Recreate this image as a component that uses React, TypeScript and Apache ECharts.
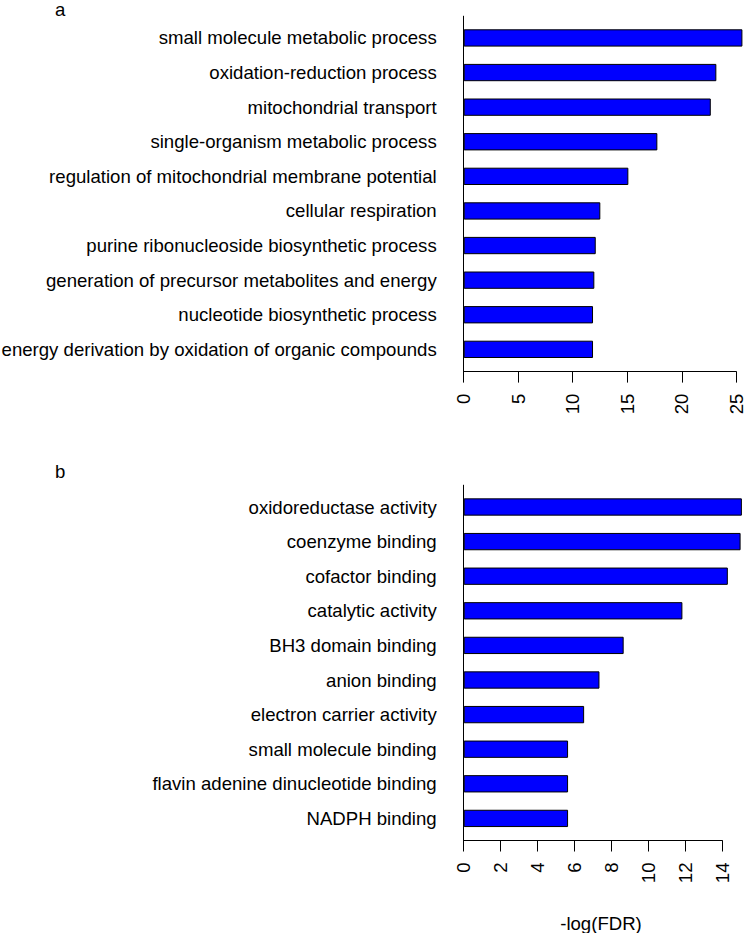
import React, { useEffect, useRef } from "react";
import * as echarts from "echarts";

const termsA = [
  "small molecule metabolic process",
  "oxidation-reduction process",
  "mitochondrial transport",
  "single-organism metabolic process",
  "regulation of mitochondrial membrane potential",
  "cellular respiration",
  "purine ribonucleoside biosynthetic process",
  "generation of precursor metabolites and energy",
  "nucleotide biosynthetic process",
  "energy derivation by oxidation of organic compounds",
];
const valuesA = [25.56, 23.17, 22.66, 17.76, 15.1, 12.53, 12.11, 11.98, 11.86, 11.86];

const termsB = [
  "oxidoreductase activity",
  "coenzyme binding",
  "cofactor binding",
  "catalytic activity",
  "BH3 domain binding",
  "anion binding",
  "electron carrier activity",
  "small molecule binding",
  "flavin adenine dinucleotide binding",
  "NADPH binding",
];
const valuesB = [15.06, 14.99, 14.3, 11.84, 8.66, 7.35, 6.52, 5.65, 5.65, 5.65];

const axisA = { max: 25, interval: 5 };
const axisB = { max: 14, interval: 2 };
const panelLabels = ["a", "b"];
const xTitle = "-log(FDR)";

const FONT = "'Liberation Sans', Arial, Helvetica, sans-serif";
const FS = 18.6;

export default function App() {
  const ref = useRef<HTMLDivElement>(null);
  useEffect(() => {
    if (!ref.current) return;
    const chart = echarts.init(ref.current, undefined, { renderer: "svg" });
    const valueAxisVisible = (gridIndex: number, max: number, interval: number) => ({
      gridIndex,
      type: "value",
      min: 0,
      max,
      interval,
      axisLine: { show: true, lineStyle: { color: "#000", width: 1 } },
      axisTick: { show: true, length: 11, lineStyle: { color: "#000", width: 1 } },
      axisLabel: { rotate: 90, margin: 22, fontSize: FS, color: "#000", fontFamily: FONT },
      splitLine: { show: false },
    });
    const hiddenX = (gridIndex: number, max: number) => ({
      gridIndex,
      type: "value",
      min: 0,
      max,
      show: false,
      splitLine: { show: false },
    });
    const catY = (gridIndex: number, data: string[]) => ({
      gridIndex,
      type: "category",
      data,
      inverse: true,
      axisLine: { show: false },
      axisTick: { show: false },
      axisLabel: { margin: 27, fontSize: FS, color: "#000", fontFamily: FONT },
    });
    const lineY = (gridIndex: number) => ({
      gridIndex,
      type: "value",
      min: 0,
      max: 1,
      axisLine: { show: true, lineStyle: { color: "#000", width: 1 } },
      axisTick: { show: false },
      axisLabel: { show: false },
      splitLine: { show: false },
    });
    const barSeries = (idx: number, data: number[]) => ({
      type: "bar",
      xAxisIndex: idx,
      yAxisIndex: idx,
      data,
      barCategoryGap: "50%",
      clip: false,
      itemStyle: { color: "#0000FF", borderColor: "#000", borderWidth: 1 },
      silent: true,
    });
    const g = (top: number, width: number, height: number) => ({
      left: 463.7,
      top,
      width,
      height,
      containLabel: false,
      outerBoundsMode: "none",
    });
    chart.setOption({
      animation: false,
      textStyle: { fontFamily: FONT },
      grid: [
        g(20.65, 272.6, 346),
        g(16.2, 272.6, 355.4),
        g(489.7, 258.6, 346),
        g(485.2, 258.6, 355.3),
      ],
      xAxis: [
        hiddenX(0, axisA.max),
        valueAxisVisible(1, axisA.max, axisA.interval),
        hiddenX(2, axisB.max),
        valueAxisVisible(3, axisB.max, axisB.interval),
      ],
      yAxis: [catY(0, termsA), lineY(1), catY(2, termsB), lineY(3)],
      series: [barSeries(0, valuesA), barSeries(2, valuesB)],
      graphic: [
        {
          type: "text",
          left: 55,
          top: 0,
          style: { text: panelLabels[0], fontSize: FS, fill: "#000", fontFamily: FONT },
        },
        {
          type: "text",
          left: 55,
          top: 462,
          style: { text: panelLabels[1], fontSize: FS, fill: "#000", fontFamily: FONT },
        },
        {
          type: "text",
          x: 601,
          y: 923.5,
          style: {
            text: xTitle,
            fontSize: FS,
            fill: "#000",
            fontFamily: FONT,
            align: "center",
            verticalAlign: "middle",
          },
        },
      ],
    });
    return () => chart.dispose();
  }, []);
  return (
    <div
      ref={ref}
      style={{ position: "absolute", left: 0, top: 0, width: 746, height: 933, background: "#fff" }}
    />
  );
}
